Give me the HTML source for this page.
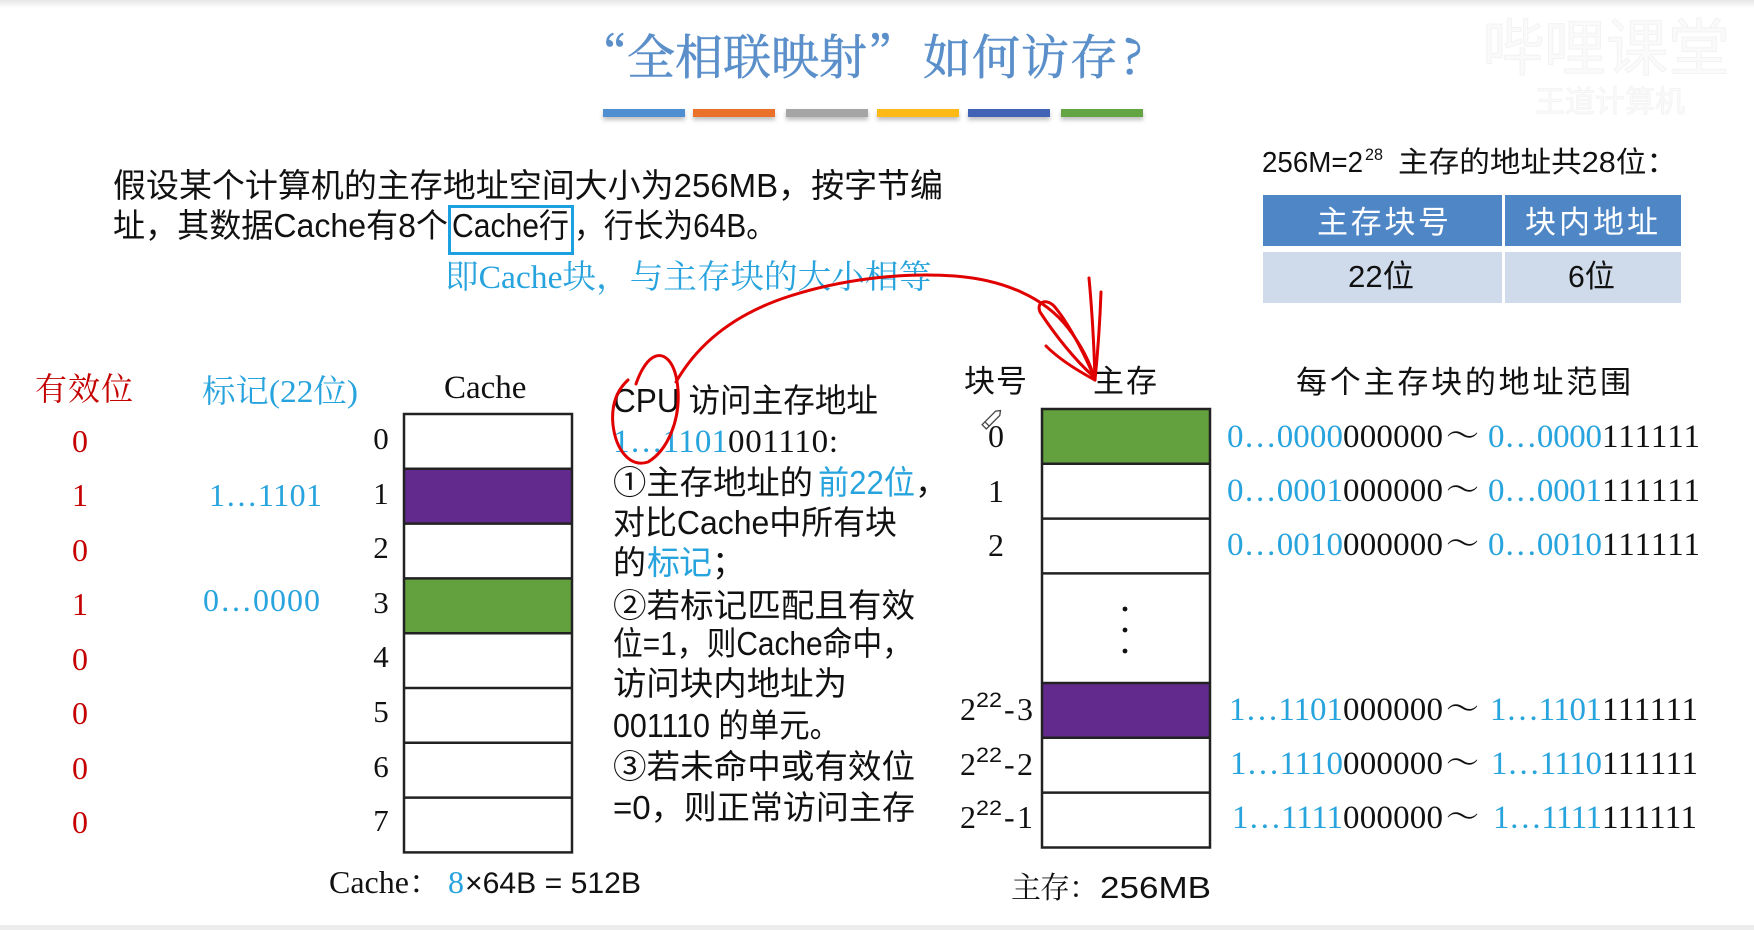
<!DOCTYPE html>
<html>
<head>
<meta charset="utf-8">
<style>
  html,body{margin:0;padding:0;background:#fff;}
  body{width:1754px;height:930px;overflow:hidden;}
  svg{display:block;}
  .sans{font-family:"Liberation Sans","Noto Sans CJK SC",sans-serif;}
  .serif{font-family:"Liberation Serif","Noto Serif CJK SC",serif;}
  .cjkserif{font-family:"Noto Serif CJK SC","Liberation Serif",serif;}
</style>
</head>
<body>
<svg width="1754" height="930" viewBox="0 0 1754 930" xmlns="http://www.w3.org/2000/svg">
  <defs>
    <linearGradient id="topg" x1="0" y1="0" x2="0" y2="1">
      <stop offset="0" stop-color="#e6e6e6"/>
      <stop offset="1" stop-color="#ffffff"/>
    </linearGradient>
    <filter id="sh" x="-10%" y="-50%" width="120%" height="250%">
      <feDropShadow dx="0" dy="3" stdDeviation="2" flood-color="#000" flood-opacity="0.25"/>
    </filter>
  </defs>

  <rect x="0" y="0" width="1754" height="930" fill="#fff"/>
  <rect x="0" y="0" width="1754" height="8" fill="url(#topg)"/>
  <rect x="0" y="925" width="1754" height="5" fill="#ededed"/>

  <!-- faint watermark -->
  <text x="1482" y="70" class="sans" font-size="62" fill="#fafafa" stroke="#f3f3f3" stroke-width="1">哔哩课堂</text>
  <text x="1535" y="112" class="sans" font-size="30" fill="#fafafa" stroke="#f4f4f4" stroke-width="1">王道计算机</text>

  <!-- Title -->
  <g class="cjkserif" font-size="48" fill="#5b8fca" stroke="#5b8fca" stroke-width="0.6">
    <text x="627" y="74" text-anchor="end">“</text>
    <text x="627" y="74" textLength="240">全相联映射</text>
    <text x="868" y="74">”</text>
    <text x="923" y="74" textLength="195">如何访存</text>
    <text x="1122" y="74">?</text>
  </g>

  <!-- colour bars -->
  <g filter="url(#sh)">
    <rect x="603" y="109" width="82" height="8" fill="#4d8fd1"/>
    <rect x="693" y="109" width="82" height="8" fill="#e9712b"/>
    <rect x="786" y="109" width="82" height="8" fill="#a5a5a5"/>
    <rect x="877" y="109" width="82" height="8" fill="#fdba12"/>
    <rect x="968" y="109" width="82" height="8" fill="#3f64b5"/>
    <rect x="1061" y="109" width="82" height="8" fill="#63a543"/>
  </g>

  <!-- paragraph -->
  <g class="sans" font-size="33" fill="#111">
    <text x="113" y="197" textLength="830" lengthAdjust="spacingAndGlyphs">假设某个计算机的主存地址空间大小为256MB，按字节编</text>
    <text x="113" y="237" textLength="335" lengthAdjust="spacingAndGlyphs">址，其数据Cache有8个</text>
    <text x="452" y="237" textLength="117" lengthAdjust="spacingAndGlyphs">Cache行</text>
    <text x="574" y="237" textLength="202" lengthAdjust="spacingAndGlyphs">，行长为64B。</text>
  </g>
  <rect x="449.5" y="206.5" width="123" height="47" fill="none" stroke="#1ba1e2" stroke-width="3"/>
  <text x="445" y="288" class="serif" font-size="33" fill="#27a3dd" textLength="487" lengthAdjust="spacingAndGlyphs">即Cache块，与主存块的大小相等</text>

  <!-- right top -->
  <g class="sans" font-size="29" fill="#111">
    <text x="1262" y="172" textLength="101" lengthAdjust="spacingAndGlyphs">256M=2</text>
    <text x="1365" y="160" font-size="17" textLength="18" lengthAdjust="spacingAndGlyphs">28</text>
    <text x="1398" y="172" textLength="279" lengthAdjust="spacingAndGlyphs">主存的地址共28位：</text>
  </g>
  <rect x="1263" y="195" width="239" height="51" fill="#4f86c6"/>
  <rect x="1505" y="195" width="176" height="51" fill="#4f86c6"/>
  <rect x="1263" y="252" width="239" height="51" fill="#cfdbeb"/>
  <rect x="1505" y="252" width="176" height="51" fill="#cfdbeb"/>
  <g class="sans" font-size="31">
    <text x="1317" y="233" fill="#fff" textLength="132">主存块号</text>
    <text x="1525" y="233" fill="#fff" textLength="133">块内地址</text>
    <text x="1348" y="287" fill="#111" textLength="66" lengthAdjust="spacingAndGlyphs">22位</text>
    <text x="1568" y="287" fill="#111" textLength="47" lengthAdjust="spacingAndGlyphs">6位</text>
  </g>

  <!-- left section headers -->
  <text x="35" y="400" class="cjkserif" font-size="32" fill="#c40000" textLength="98">有效位</text>
  <text x="202" y="402" class="serif" font-size="32" fill="#27a3dd" textLength="156" lengthAdjust="spacingAndGlyphs">标记(22位)</text>
  <text x="444" y="398" class="serif" font-size="33" fill="#111">Cache</text>

  <!-- cache box -->
  <rect x="404" y="468.8" width="168" height="54.8" fill="#622a8c"/>
  <rect x="404" y="578.4" width="168" height="54.8" fill="#63a03e"/>
  <g stroke="#222" stroke-width="2.5" fill="none">
    <rect x="404" y="414" width="168" height="438.4"/>
    <line x1="404" y1="468.8" x2="572" y2="468.8"/>
    <line x1="404" y1="523.6" x2="572" y2="523.6"/>
    <line x1="404" y1="578.4" x2="572" y2="578.4"/>
    <line x1="404" y1="633.2" x2="572" y2="633.2"/>
    <line x1="404" y1="688" x2="572" y2="688"/>
    <line x1="404" y1="742.8" x2="572" y2="742.8"/>
    <line x1="404" y1="797.6" x2="572" y2="797.6"/>
  </g>

  <!-- cache indices -->
  <g class="serif" font-size="31" fill="#111" text-anchor="middle">
    <text x="381" y="449">0</text>
    <text x="381" y="504">1</text>
    <text x="381" y="558">2</text>
    <text x="381" y="613">3</text>
    <text x="381" y="667">4</text>
    <text x="381" y="722">5</text>
    <text x="381" y="777">6</text>
    <text x="381" y="831">7</text>
  </g>
  <!-- valid bits -->
  <g class="serif" font-size="32" fill="#c40000" text-anchor="middle">
    <text x="80" y="452">0</text>
    <text x="80" y="506">1</text>
    <text x="80" y="561">0</text>
    <text x="80" y="615">1</text>
    <text x="80" y="670">0</text>
    <text x="80" y="724">0</text>
    <text x="80" y="779">0</text>
    <text x="80" y="833">0</text>
  </g>
  <g class="serif" font-size="32" fill="#27a3dd">
    <text x="209" y="506" textLength="113">1…1101</text>
    <text x="203" y="611" textLength="117">0…0000</text>
  </g>

  <!-- bottom captions -->
  <text x="329" y="893" class="serif" font-size="32" fill="#111" textLength="112">Cache：</text>
  <text x="448" y="893" class="serif" font-size="32" fill="#27a3dd">8</text>
  <text x="465" y="893" class="sans" font-size="30" fill="#111" textLength="176" lengthAdjust="spacingAndGlyphs">×64B = 512B</text>
  <text x="1011" y="898" class="cjkserif" font-size="30" fill="#111" textLength="88">主存：</text>
  <text x="1100" y="898" class="sans" font-size="31" fill="#111" textLength="111" lengthAdjust="spacingAndGlyphs">256MB</text>

  <!-- middle text -->
  <g class="sans" font-size="33" fill="#111">
    <text x="613" y="412" textLength="265" lengthAdjust="spacingAndGlyphs">CPU 访问主存地址</text>
    <text x="613" y="494" textLength="200" lengthAdjust="spacingAndGlyphs">①主存地址的</text>
    <text x="818" y="494" textLength="97" lengthAdjust="spacingAndGlyphs" fill="#27a3dd">前22位</text>
    <text x="915" y="494">，</text>
    <text x="613" y="534" textLength="284" lengthAdjust="spacingAndGlyphs">对比Cache中所有块</text>
    <text x="613" y="574">的</text>
    <text x="647" y="574" textLength="65" fill="#27a3dd">标记</text>
    <text x="712" y="574">；</text>
    <text x="613" y="617" textLength="302" lengthAdjust="spacingAndGlyphs">②若标记匹配且有效</text>
    <text x="613" y="655" textLength="299" lengthAdjust="spacingAndGlyphs">位=1，则Cache命中，</text>
    <text x="613" y="695" textLength="234" lengthAdjust="spacingAndGlyphs">访问块内地址为</text>
    <text x="613" y="737" textLength="227" lengthAdjust="spacingAndGlyphs">001110 的单元。</text>
    <text x="613" y="778" textLength="302" lengthAdjust="spacingAndGlyphs">③若未命中或有效位</text>
    <text x="613" y="819" textLength="302" lengthAdjust="spacingAndGlyphs">=0，则正常访问主存</text>
  </g>
  <g class="serif" font-size="33">
    <text x="613" y="452" fill="#27a3dd" textLength="115">1…1101</text>
    <text x="728" y="452" fill="#111" textLength="110">001110:</text>
  </g>

  <!-- right section headers -->
  <g class="sans" font-size="31" fill="#111">
    <text x="964" y="392" textLength="63">块号</text>
    <text x="1093" y="392" textLength="64">主存</text>
    <text x="1296" y="393" textLength="335">每个主存块的地址范围</text>
  </g>

  <!-- main memory box -->
  <rect x="1042" y="409" width="168" height="54.8" fill="#63a03e"/>
  <rect x="1042" y="683" width="168" height="54.8" fill="#622a8c"/>
  <g stroke="#222" stroke-width="2.5" fill="none">
    <rect x="1042" y="409" width="168" height="438.5"/>
    <line x1="1042" y1="463.8" x2="1210" y2="463.8"/>
    <line x1="1042" y1="518.6" x2="1210" y2="518.6"/>
    <line x1="1042" y1="573.4" x2="1210" y2="573.4"/>
    <line x1="1042" y1="683" x2="1210" y2="683"/>
    <line x1="1042" y1="737.8" x2="1210" y2="737.8"/>
    <line x1="1042" y1="792.6" x2="1210" y2="792.6"/>
  </g>
  <circle cx="1125" cy="609" r="2.4" fill="#111"/>
  <circle cx="1125" cy="630" r="2.4" fill="#111"/>
  <circle cx="1125" cy="651" r="2.4" fill="#111"/>

  <!-- block numbers -->
  <g class="serif" font-size="32" fill="#111">
    <text x="996" y="447" text-anchor="middle">0</text>
    <text x="996" y="502" text-anchor="middle">1</text>
    <text x="996" y="556" text-anchor="middle">2</text>
    <text x="960" y="720">2</text><text x="976" y="707" class="sans" font-size="21" textLength="26" lengthAdjust="spacingAndGlyphs">22</text><text x="1004" y="720" textLength="29">-3</text>
    <text x="960" y="775">2</text><text x="976" y="762" class="sans" font-size="21" textLength="26" lengthAdjust="spacingAndGlyphs">22</text><text x="1004" y="775" textLength="29">-2</text>
    <text x="960" y="828">2</text><text x="976" y="815" class="sans" font-size="21" textLength="26" lengthAdjust="spacingAndGlyphs">22</text><text x="1004" y="828" textLength="29">-1</text>
  </g>
  <!-- pencil cursor -->
  <g transform="translate(992,419) rotate(-45)" fill="#fff" stroke="#444" stroke-width="1.3">
    <path d="M -11 -3 L 8 -3 L 12 0 L 8 3 L -11 3 Z"/>
    <line x1="-7" y1="-3" x2="-7" y2="3"/>
  </g>

  <!-- address ranges -->
  <g class="serif" font-size="33">
    <g>
      <text x="1227" y="447" fill="#27a3dd" textLength="116">0…0000</text>
      <text x="1343" y="447" fill="#111" textLength="100">000000</text>
      <text x="1446" y="447" fill="#111" class="cjkserif" textLength="31">～</text>
      <text x="1488" y="447" fill="#27a3dd" textLength="114">0…0000</text>
      <text x="1602" y="447" fill="#111" textLength="98">111111</text>
    </g>
    <g>
      <text x="1227" y="501" fill="#27a3dd" textLength="116">0…0001</text>
      <text x="1343" y="501" fill="#111" textLength="100">000000</text>
      <text x="1446" y="501" fill="#111" class="cjkserif" textLength="31">～</text>
      <text x="1488" y="501" fill="#27a3dd" textLength="114">0…0001</text>
      <text x="1602" y="501" fill="#111" textLength="98">111111</text>
    </g>
    <g>
      <text x="1227" y="555" fill="#27a3dd" textLength="116">0…0010</text>
      <text x="1343" y="555" fill="#111" textLength="100">000000</text>
      <text x="1446" y="555" fill="#111" class="cjkserif" textLength="31">～</text>
      <text x="1488" y="555" fill="#27a3dd" textLength="114">0…0010</text>
      <text x="1602" y="555" fill="#111" textLength="98">111111</text>
    </g>
    <g>
      <text x="1229" y="720" fill="#27a3dd" textLength="114">1…1101</text>
      <text x="1343" y="720" fill="#111" textLength="100">000000</text>
      <text x="1446" y="720" fill="#111" class="cjkserif" textLength="31">～</text>
      <text x="1490" y="720" fill="#27a3dd" textLength="112">1…1101</text>
      <text x="1602" y="720" fill="#111" textLength="96">111111</text>
    </g>
    <g>
      <text x="1230" y="774" fill="#27a3dd" textLength="113">1…1110</text>
      <text x="1343" y="774" fill="#111" textLength="100">000000</text>
      <text x="1446" y="774" fill="#111" class="cjkserif" textLength="31">～</text>
      <text x="1491" y="774" fill="#27a3dd" textLength="111">1…1110</text>
      <text x="1602" y="774" fill="#111" textLength="96">111111</text>
    </g>
    <g>
      <text x="1232" y="828" fill="#27a3dd" textLength="111">1…1111</text>
      <text x="1343" y="828" fill="#111" textLength="100">000000</text>
      <text x="1446" y="828" fill="#111" class="cjkserif" textLength="31">～</text>
      <text x="1493" y="828" fill="#27a3dd" textLength="109">1…1111</text>
      <text x="1602" y="828" fill="#111" textLength="95">111111</text>
    </g>
  </g>

  <!-- red handwritten annotation -->
  <g fill="none" stroke="#e00000" stroke-width="3" stroke-linecap="round" stroke-linejoin="round">
    <path d="M 636 384 C 640 372 646 362 652 358 C 664 350 676 362 678 390 C 680 420 668 450 648 462 C 630 468 616 450 613 425 C 611 405 617 390 628 380"/>
    <path d="M 676 382 C 700 340 740 312 790 296 C 840 280 900 272 955 276 C 1005 280 1045 298 1068 328 C 1082 346 1090 362 1095 380"/>
    <path d="M 1095 380 C 1094 345 1092 310 1089 278"/>
    <path d="M 1095 380 C 1098 350 1100 320 1101 292"/>
    <path d="M 1095 380 C 1080 372 1060 360 1046 346"/>
    <path d="M 1093 376 C 1075 360 1055 335 1040 312 C 1036 302 1046 298 1054 306 C 1066 320 1080 345 1092 372"/>
  </g>
</svg>
</body>
</html>
